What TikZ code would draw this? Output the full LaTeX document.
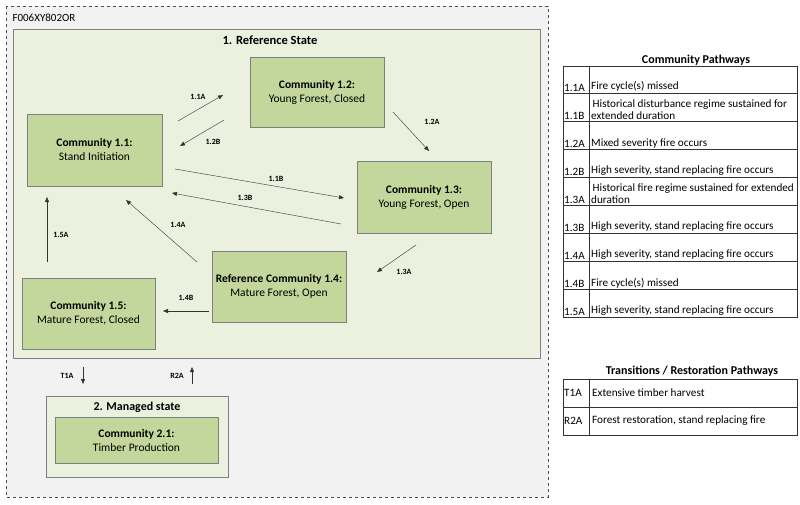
\documentclass[tikz,border=0pt]{standalone}
\usepackage{fontspec}
\setmainfont{Carlito}
\usetikzlibrary{arrows.meta}
\definecolor{outerbg}{HTML}{F2F2F2}
\definecolor{statebg}{HTML}{EBF1DE}
\definecolor{commbg}{HTML}{C3D69B}
\definecolor{bord}{HTML}{7F7F7F}
\begin{document}
\begin{tikzpicture}[x=1pt,y=-1pt,
  comm/.style={draw=bord,fill=commbg,align=center,font=\fontsize{11.5}{14}\selectfont},
  arr/.style={-{Triangle[length=5pt,width=4pt]},thin,black!80},
  lab/.style={font=\fontsize{8}{9}\selectfont\bfseries},
  tf/.style={font=\fontsize{11.2}{12.5}\selectfont},
  cell/.style={draw=black!80,thin}]
\useasboundingbox (0,0) rectangle (800,504);
\draw[dashed,fill=outerbg,draw=black!70] (6,6) rectangle (548,497);
\node[anchor=west,font=\fontsize{11}{12}\selectfont] (code) at (9,18) {F006XY802OR};
\draw[draw=bord,fill=statebg] (13,29) rectangle (540,358);
\node[font=\fontsize{12.5}{14}\selectfont\bfseries] (rs) at (270,40) {1. Reference State};
\node[comm,minimum width=135,minimum height=72] (c11) at (94.5,150) {\textbf{Community 1.1:}\\Stand Initiation};
\node[comm,minimum width=134,minimum height=70] (c12) at (317,92) {\textbf{Community 1.2:}\\Young Forest, Closed};
\node[comm,minimum width=134,minimum height=72] (c13) at (424,197) {\textbf{Community 1.3:}\\Young Forest, Open};
\node[comm,minimum width=134,minimum height=71] (c14) at (279,286.5) {\textbf{Reference Community 1.4:}\\Mature Forest, Open};
\node[comm,minimum width=133,minimum height=71] (c15) at (88.5,313.5) {\textbf{Community 1.5:}\\Mature Forest, Closed};
\draw[draw=bord,fill=statebg] (46,396) rectangle (228,477);
\node[font=\fontsize{12}{14}\selectfont\bfseries] (ms) at (137,407) {2. Managed state};
\node[comm,minimum width=163,minimum height=46] (c21) at (136.5,440) {\textbf{Community 2.1:}\\Timber Production};
% arrows
\coordinate (a1) at (178,121); \coordinate (a2) at (223,95);
\draw[arr] (a1) -- (a2); \node[lab] (l11a) at (198,97) {1.1A};
\coordinate (b1) at (224,120); \coordinate (b2) at (180,146);
\draw[arr] (b1) -- (b2); \node[lab] (l12b) at (213,142) {1.2B};
\coordinate (c1) at (393,112); \coordinate (c2) at (429,151);
\draw[arr] (c1) -- (c2); \node[lab] (l12a) at (432,122) {1.2A};
\coordinate (d1) at (175,169); \coordinate (d2) at (344,198);
\draw[arr] (d1) -- (d2); \node[lab] (l11b) at (276,179) {1.1B};
\coordinate (e1) at (341,224); \coordinate (e2) at (172,193);
\draw[arr] (e1) -- (e2); \node[lab] (l13b) at (245,198) {1.3B};
\coordinate (f1) at (197,262); \coordinate (f2) at (126,200);
\draw[arr] (f1) -- (f2); \node[lab] (l14a) at (178,225) {1.4A};
\coordinate (g1) at (47,262); \coordinate (g2) at (47,197);
\draw[arr] (g1) -- (g2); \node[lab] (l15a) at (61,235) {1.5A};
\coordinate (h1) at (416,245); \coordinate (h2) at (377,272);
\draw[arr] (h1) -- (h2); \node[lab] (l13a) at (404,272) {1.3A};
\coordinate (i1) at (209,311); \coordinate (i2) at (163,311);
\draw[arr] (i1) -- (i2); \node[lab] (l14b) at (186,298) {1.4B};
\coordinate (j1) at (83,367); \coordinate (j2) at (83,384);
\draw[arr] (j1) -- (j2); \node[lab] (lt1a) at (67,376) {T1A};
\coordinate (k1) at (192,384); \coordinate (k2) at (192,367);
\draw[arr] (k1) -- (k2); \node[lab] (lr2a) at (177,376) {R2A};
% table 1
\node[font=\fontsize{12}{13}\selectfont\bfseries] (t1) at (696,60) {Community Pathways};
\foreach \y/\h/\k/\t [count=\i] in {66/93/1.1A/Fire cycle(s) missed,
  93/121/1.1B/{\hspace*{1.5pt}Historical disturbance regime sustained for\\extended duration},
  121/149/1.2A/Mixed severity fire occurs,
  149/177/1.2B/{High severity, stand replacing fire occurs},
  177/205/1.3A/{\hspace*{1.5pt}Historical fire regime sustained for extended\\duration},
  205/233/1.3B/{High severity, stand replacing fire occurs},
  233/261/1.4A/{High severity, stand replacing fire occurs},
  261/289/1.4B/Fire cycle(s) missed,
  289/317/1.5A/{High severity, stand replacing fire occurs}}{
  \draw[cell] (563,\y) rectangle (589,\h);
  \draw[cell] (589,\y) rectangle (797,\h);
  \node[tf,anchor=south west,inner sep=1pt] (k\i) at (563,\h) {\k};
  \node[tf,anchor=south west,inner sep=1pt,align=left] (d\i) at (590,\h) {\t};
}
% table 2
\node[font=\fontsize{12}{13}\selectfont\bfseries] (t2) at (692,371) {Transitions / Restoration Pathways};
\foreach \y/\h/\k/\t [count=\i] in {379/407/T1A/Extensive timber harvest,
  407/435/R2A/{Forest restoration, stand replacing fire}}{
  \draw[cell] (563,\y) rectangle (589,\h);
  \draw[cell] (589,\y) rectangle (797,\h);
  \node[tf,anchor=west,inner sep=1pt] (tk\i) at (563,\y+14) {\k};
  \node[tf,anchor=west,inner sep=2pt] (td\i) at (590,\y+14) {\t};
}
\end{tikzpicture}
\end{document}
